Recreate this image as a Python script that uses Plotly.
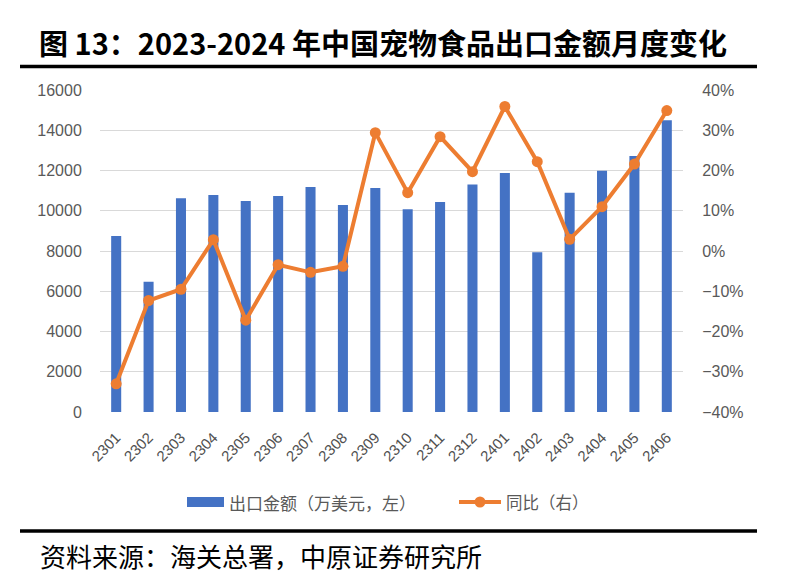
import plotly.graph_objects as go

months = ["2301", "2302", "2303", "2304", "2305", "2306", "2307", "2308", "2309",
          "2310", "2311", "2312", "2401", "2402", "2403", "2404", "2405", "2406"]
export_value = [8750, 6470, 10620, 10780, 10480, 10730, 11180, 10290, 11130,
                10070, 10440, 11310, 11870, 7940, 10900, 11990, 12720, 14500]
yoy = [-0.330, -0.123, -0.095, 0.028, -0.172, -0.034, -0.053, -0.038, 0.294,
       0.145, 0.284, 0.197, 0.359, 0.222, 0.029, 0.110, 0.216, 0.349]

left_ticks = [0, 2000, 4000, 6000, 8000, 10000, 12000, 14000, 16000]
right_ticks = [-0.4, -0.3, -0.2, -0.1, 0, 0.1, 0.2, 0.3, 0.4]

bar_name = "出口金额（万美元，左）"
line_name = "同比（右）"

BLUE = "#4472C4"
ORANGE = "#ED7D31"
GRAY = "#595959"
CJK = "Noto Sans CJK SC"
XFONT = dict(family="Liberation Sans, Arial", size=15, color="#505050")
YFONT = dict(family="Liberation Sans, Arial", size=16, color=GRAY)

W, H = 789, 577
L, R, T, B = 100, 106, 90, 165
pw, ph = W - L - R, H - T - B


def px(x):
    return (x - L) / pw


def py(y):
    return (H - B - y) / ph


fig = go.Figure()
fig.add_trace(go.Bar(x=months, y=export_value, name=bar_name,
                     marker=dict(color=BLUE, line=dict(width=0)), yaxis="y"))
fig.add_trace(go.Scatter(x=months, y=yoy, name=line_name, mode="lines+markers",
                         line=dict(color=ORANGE, width=4),
                         marker=dict(color=ORANGE, size=11), yaxis="y2"))

fig.update_layout(
    width=W, height=H,
    margin=dict(l=L, r=R, t=T, b=B, autoexpand=False),
    paper_bgcolor="white", plot_bgcolor="white",
    bargap=0.69,
    showlegend=False,
    xaxis=dict(type="category", range=[-0.5, len(months) - 0.5], tickangle=-45,
               tickfont=XFONT, showgrid=False,
               ticks="outside", ticklen=10, tickcolor="rgba(0,0,0,0)",
               showline=False, zeroline=False, automargin=False),
    yaxis=dict(range=[0, 16000], tickvals=left_ticks, tickformat="d", tickfont=YFONT,
               showgrid=True, gridcolor="#D9D9D9", gridwidth=1, zeroline=False,
               ticks="outside", ticklen=14, tickcolor="rgba(0,0,0,0)", showline=False,
               automargin=False),
    yaxis2=dict(range=[-0.4, 0.4], tickvals=right_ticks, tickformat=".0%", tickfont=YFONT,
                overlaying="y", side="right", showgrid=False, zeroline=False,
                ticks="outside", ticklen=15, tickcolor="rgba(0,0,0,0)", showline=False,
                automargin=False),
)

# title and source
fig.add_annotation(text="<b>图 13：2023-2024 年中国宠物食品出口金额月度变化</b>",
                   xref="paper", yref="paper", x=px(383), y=py(42),
                   xanchor="center", yanchor="middle", showarrow=False,
                   font=dict(family=CJK, size=29, color="black"))
fig.add_annotation(text="资料来源：海关总署，中原证券研究所",
                   xref="paper", yref="paper", x=px(38), y=py(555),
                   xanchor="left", yanchor="middle", showarrow=False,
                   font=dict(family=CJK, size=26, color="black"))

for yy in (66.5, 531):
    fig.add_shape(type="line", xref="paper", yref="paper",
                  x0=px(20), x1=px(757), y0=py(yy), y1=py(yy),
                  line=dict(color="black", width=3.5))

# legend (drawn manually to match the wide bar swatch)
fig.add_shape(type="rect", xref="paper", yref="paper",
              x0=px(187), x1=px(224), y0=py(507), y1=py(497),
              fillcolor=BLUE, line=dict(width=0))
fig.add_annotation(text=bar_name, xref="paper", yref="paper", x=px(227), y=py(502),
                   xanchor="left", yanchor="middle", showarrow=False,
                   font=dict(family=CJK, size=17, color=GRAY))
fig.add_shape(type="line", xref="paper", yref="paper",
              x0=px(459), x1=px(501), y0=py(502), y1=py(502),
              line=dict(color=ORANGE, width=4))
fig.add_shape(type="circle", xref="paper", yref="paper",
              x0=px(474.5), x1=px(485.5), y0=py(507.5), y1=py(496.5),
              fillcolor=ORANGE, line=dict(width=0))
fig.add_annotation(text=line_name, xref="paper", yref="paper", x=px(504), y=py(502),
                   xanchor="left", yanchor="middle", showarrow=False,
                   font=dict(family=CJK, size=16.5, color=GRAY))

fig.write_html("out.html")
